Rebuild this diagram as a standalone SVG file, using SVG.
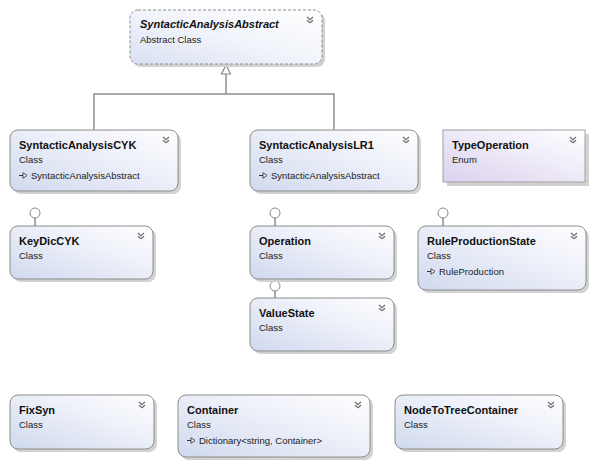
<svg xmlns="http://www.w3.org/2000/svg" width="595" height="469" viewBox="0 0 595 469">
  <defs>
    <linearGradient id="gClass" x1="1" y1="0" x2="0" y2="1">
      <stop offset="0" stop-color="#ffffff"/>
      <stop offset="0.4" stop-color="#eef1f9"/>
      <stop offset="1" stop-color="#d0d9ee"/>
    </linearGradient>
    <linearGradient id="gAbstract" x1="1" y1="0" x2="0" y2="1">
      <stop offset="0" stop-color="#ffffff"/>
      <stop offset="0.5" stop-color="#f1f4fa"/>
      <stop offset="1" stop-color="#d9e0f2"/>
    </linearGradient>
    <linearGradient id="gEnum" x1="1" y1="0" x2="0" y2="1">
      <stop offset="0" stop-color="#ffffff"/>
      <stop offset="0.4" stop-color="#f1edf9"/>
      <stop offset="1" stop-color="#dbd1ee"/>
    </linearGradient>
    <!-- collapse/expand chevron drawn at the top-right of every shape -->
    <g id="chev">
      <path d="M-3,0 L0,2.6 L3,0 M-3,3.2 L0,5.8 L3,3.2" fill="none" stroke="#6f6f6f" stroke-width="1.2"/>
    </g>
    <!-- small inheritance marker in front of a base type -->
    <g id="inh">
      <path d="M0,0 H4" stroke="#333" stroke-width="1"/>
      <path d="M4,-2.8 L8,0 L4,2.8 Z" fill="#fff" stroke="#333" stroke-width="0.9"/>
    </g>
  </defs>
  <style>
    .shadow { fill: #d2d2d2; }
    .box { fill: url(#gClass); stroke: #8c8c8c; stroke-width: 1; }
    .abs { fill: url(#gAbstract); stroke: #8c8c8c; stroke-width: 1; stroke-dasharray: 3 2; }
    .enum { fill: url(#gEnum); stroke: #a0a0a0; stroke-width: 1; }
    .title { font-family: "Liberation Sans", Arial, sans-serif; font-weight: bold; font-size: 11px; fill: #111; }
    .ital { font-style: italic; }
    .kind { font-family: "Liberation Sans", Arial, sans-serif; font-size: 9.5px; fill: #222; }
    .conn { fill: none; stroke: #8e8e8e; stroke-width: 1.5; }
    .lolly { fill: #fff; stroke: #8a8a8a; stroke-width: 1; }
  </style>

  <rect width="595" height="469" fill="#ffffff"/>

  <!-- inheritance connectors and interface lollipops -->
  <g id="connectors">
    <path class="conn" d="M94,130 V94 H334 V130"/>
    <path class="conn" d="M226,94 V74"/>
    <path d="M226,65 L221.5,74 L230.5,74 Z" fill="#fff" stroke="#8a8a8a" stroke-width="1.2"/>
    <path class="conn" d="M35,218 V226" stroke-width="1.2"/>
    <circle class="lolly" cx="35" cy="213" r="5"/>
    <path class="conn" d="M275,218 V226" stroke-width="1.2"/>
    <circle class="lolly" cx="275" cy="213" r="5"/>
    <path class="conn" d="M275,291 V298" stroke-width="1.2"/>
    <circle class="lolly" cx="275" cy="286" r="5"/>
    <path class="conn" d="M443,218 V226" stroke-width="1.2"/>
    <circle class="lolly" cx="443" cy="213" r="5"/>
  </g>

  <g id="SyntacticAnalysisAbstract">
    <rect class="shadow" x="133" y="13" width="192" height="54" rx="8"/>
    <rect class="abs" x="130" y="10" width="192" height="54" rx="8"/>
    <text class="title ital" x="140" y="27.5">SyntacticAnalysisAbstract</text>
    <text class="kind" x="140" y="42.5">Abstract Class</text>
    <use href="#chev" x="310" y="17"/>
  </g>

  <g id="SyntacticAnalysisCYK">
    <rect class="shadow" x="13" y="133" width="168" height="61" rx="8"/>
    <rect class="box" x="10" y="130" width="168" height="61" rx="8"/>
    <text class="title" x="19" y="149">SyntacticAnalysisCYK</text>
    <text class="kind" x="19" y="163">Class</text>
    <use href="#inh" x="19" y="175.5"/>
    <text class="kind" x="31" y="179">SyntacticAnalysisAbstract</text>
    <use href="#chev" x="166" y="137"/>
  </g>

  <g id="SyntacticAnalysisLR1">
    <rect class="shadow" x="253" y="133" width="168" height="61" rx="8"/>
    <rect class="box" x="250" y="130" width="168" height="61" rx="8"/>
    <text class="title" x="259" y="149">SyntacticAnalysisLR1</text>
    <text class="kind" x="259" y="163">Class</text>
    <use href="#inh" x="259" y="175.5"/>
    <text class="kind" x="271" y="179">SyntacticAnalysisAbstract</text>
    <use href="#chev" x="406" y="137"/>
  </g>

  <g id="TypeOperation">
    <rect class="shadow" x="447" y="134" width="142" height="52"/>
    <rect class="enum" x="443" y="130" width="142" height="52"/>
    <text class="title" x="452" y="149">TypeOperation</text>
    <text class="kind" x="452" y="163">Enum</text>
    <use href="#chev" x="573" y="137"/>
  </g>

  <g id="KeyDicCYK">
    <rect class="shadow" x="13" y="229" width="143" height="53" rx="8"/>
    <rect class="box" x="10" y="226" width="143" height="53" rx="8"/>
    <text class="title" x="19" y="245">KeyDicCYK</text>
    <text class="kind" x="19" y="259">Class</text>
    <use href="#chev" x="141" y="233"/>
  </g>

  <g id="Operation">
    <rect class="shadow" x="253" y="229" width="144" height="53" rx="8"/>
    <rect class="box" x="250" y="226" width="144" height="53" rx="8"/>
    <text class="title" x="259" y="245">Operation</text>
    <text class="kind" x="259" y="259">Class</text>
    <use href="#chev" x="382" y="233"/>
  </g>

  <g id="ValueState">
    <rect class="shadow" x="253" y="301" width="144" height="53" rx="8"/>
    <rect class="box" x="250" y="298" width="144" height="53" rx="8"/>
    <text class="title" x="259" y="317">ValueState</text>
    <text class="kind" x="259" y="331">Class</text>
    <use href="#chev" x="382" y="305"/>
  </g>

  <g id="RuleProductionState">
    <rect class="shadow" x="421" y="229" width="168" height="64" rx="8"/>
    <rect class="box" x="418" y="226" width="168" height="64" rx="8"/>
    <text class="title" x="427" y="245">RuleProductionState</text>
    <text class="kind" x="427" y="259">Class</text>
    <use href="#inh" x="427" y="271.5"/>
    <text class="kind" x="439" y="275">RuleProduction</text>
    <use href="#chev" x="574" y="233"/>
  </g>

  <g id="FixSyn">
    <rect class="shadow" x="13" y="398" width="144" height="54" rx="8"/>
    <rect class="box" x="10" y="395" width="144" height="54" rx="8"/>
    <text class="title" x="19" y="414">FixSyn</text>
    <text class="kind" x="19" y="428">Class</text>
    <use href="#chev" x="142" y="402"/>
  </g>

  <g id="Container">
    <rect class="shadow" x="181" y="398" width="192" height="62" rx="8"/>
    <rect class="box" x="178" y="395" width="192" height="62" rx="8"/>
    <text class="title" x="187" y="414">Container</text>
    <text class="kind" x="187" y="428">Class</text>
    <use href="#inh" x="187" y="440.5"/>
    <text class="kind" x="199" y="444">Dictionary&lt;string, Container&gt;</text>
    <use href="#chev" x="358" y="402"/>
  </g>

  <g id="NodeToTreeContainer">
    <rect class="shadow" x="398" y="398" width="168" height="54" rx="8"/>
    <rect class="box" x="395" y="395" width="168" height="54" rx="8"/>
    <text class="title" x="404" y="414">NodeToTreeContainer</text>
    <text class="kind" x="404" y="428">Class</text>
    <use href="#chev" x="551" y="402"/>
  </g>
</svg>
